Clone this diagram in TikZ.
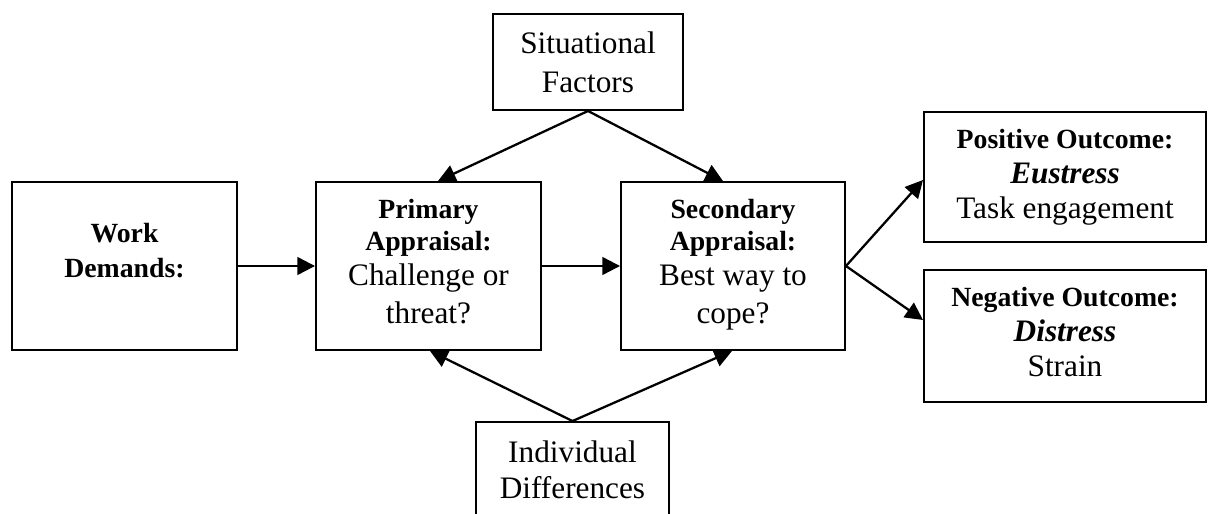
\documentclass[tikz,border=0pt]{standalone}
\usepackage{fontspec}
\setmainfont{Liberation Serif}
\usetikzlibrary{arrows.meta}

\begin{document}
\begin{tikzpicture}[x=0.02cm, y=-0.02cm,
  box/.style n args={2}{draw, line width=1.1pt, inner sep=0pt,
    minimum width=#1*0.02cm, minimum height=#2*0.02cm},
  plain/.style={inner sep=0pt, anchor=base, font=\fontsize{17.8}{21}\selectfont},
  strong/.style={inner sep=0pt, anchor=base, font=\fontsize{15.8}{19}\selectfont\bfseries},
  emph/.style={inner sep=0pt, anchor=base, font=\fontsize{17.8}{21}\selectfont\bfseries\itshape},
  arr/.style={line width=1.3pt, -{Triangle[length=10pt, width=10pt]}}]

\useasboundingbox (0,0) rectangle (1211,514);

% boxes
\node[box={190}{96}]  (sf) at (588,62) {};
\node[box={225}{168}] (wd) at (124.5,266) {};
\node[box={225}{168}] (pa) at (428.5,266) {};
\node[box={224}{168}] (sa) at (733,266) {};
\node[box={282}{130}] (po) at (1065,177) {};
\node[box={282}{132}] (no) at (1065,336) {};
\node[box={193}{116}] (id) at (572.5,480) {};

% Situational Factors
\node[plain] (sf1) at (588,53) {Situational};
\node[plain] (sf2) at (588,92) {Factors};

% Work Demands
\node[strong] (wd1) at (124.5,242) {Work};
\node[strong] (wd2) at (124.5,277) {Demands:};

% Primary Appraisal
\node[strong] (pa1) at (428.5,218) {Primary};
\node[strong] (pa2) at (428.5,250) {Appraisal:};
\node[plain]  (pa3) at (428.5,285) {Challenge or};
\node[plain]  (pa4) at (428.5,323) {threat?};

% Secondary Appraisal
\node[strong] (sa1) at (733,218) {Secondary};
\node[strong] (sa2) at (733,250) {Appraisal:};
\node[plain]  (sa3) at (733,285) {Best way to};
\node[plain]  (sa4) at (733,323) {cope?};

% Positive Outcome
\node[strong] (po1) at (1065,148) {Positive Outcome:};
\node[emph]   (po2) at (1065,183) {Eustress};
\node[plain]  (po3) at (1065,218) {Task engagement};

% Negative Outcome
\node[strong] (no1) at (1065,306) {Negative Outcome:};
\node[emph]   (no2) at (1065,341) {Distress};
\node[plain]  (no3) at (1065,376) {Strain};

% Individual Differences
\node[plain] (id1) at (572.5,462) {Individual};
\node[plain] (id2) at (572.5,498) {Differences};

% connectors
\draw[arr] (wd) -- (pa);
\draw[arr] (pa) -- (sa);
\draw[arr] (sf.south) -- ([shift={(9.5,0)}]pa.north);
\draw[arr] (sf.south) -- ([shift={(-10,0)}]sa.north);
\draw[arr] (id.north) -- ([shift={(1.5,0)}]pa.south);
\draw[arr] (id.north) -- ([shift={(-1,0)}]sa.south);
\draw[arr] (sa.east) -- ([shift={(0,3)}]po.west);
\draw[arr] (sa.east) -- ([shift={(0,-16)}]no.west);
\end{tikzpicture}
\end{document}
